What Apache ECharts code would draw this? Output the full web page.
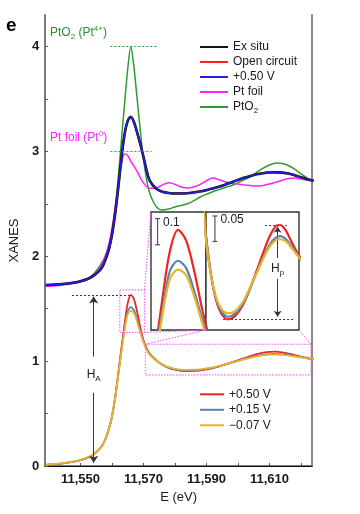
<!DOCTYPE html>
<html><head><meta charset="utf-8">
<script src="https://cdn.jsdelivr.net/npm/echarts@6/dist/echarts.min.js"></script>
<style>html,body{margin:0;padding:0;background:#fff}#c{width:360px;height:514px}</style>
</head><body><div id="c"></div><script>
// ---------- data ----------
const energy = [11539,11542,11545,11548,11550,11552,11554,11556,
  11557,11558,11559,11560,11561,11562,11563,11564,11565,11566,11567,11568,11569,11570,11571,11572,
  11574,11576,11578,11580,11582,11584,11586,11588,11590,11592,11594,11596,11598,11600,11602,11604,
  11606,11608,11610,11612,11614,11616,11618,11620,11622,11624];
// upper group (references + in situ)
const exSitu = [1.725,1.73,1.738,1.75,1.762,1.78,1.81,1.86,
  1.9,1.97,2.06,2.2,2.4,2.65,2.93,3.16,3.29,3.33,3.28,3.18,3.07,2.95,2.82,2.72,
  2.645,2.615,2.603,2.598,2.598,2.6,2.607,2.617,2.63,2.645,2.662,2.682,2.705,2.727,2.748,2.766,
  2.781,2.792,2.798,2.8,2.797,2.788,2.772,2.752,2.735,2.72];
const openCircuit = [1.725,1.73,1.738,1.75,1.762,1.78,1.81,1.86,
  1.9,1.97,2.06,2.2,2.4,2.65,2.93,3.16,3.285,3.325,3.275,3.175,3.065,2.945,2.82,2.72,
  2.645,2.615,2.604,2.6,2.6,2.602,2.609,2.619,2.632,2.647,2.664,2.684,2.707,2.729,2.75,2.768,
  2.783,2.794,2.8,2.802,2.799,2.79,2.774,2.754,2.736,2.72];
const plus050 = [1.725,1.73,1.738,1.75,1.762,1.78,1.81,1.86,
  1.9,1.97,2.06,2.2,2.4,2.65,2.93,3.16,3.29,3.33,3.28,3.18,3.07,2.95,2.82,2.72,
  2.645,2.615,2.603,2.598,2.598,2.6,2.607,2.617,2.63,2.645,2.662,2.682,2.705,2.727,2.748,2.766,
  2.781,2.792,2.798,2.8,2.797,2.788,2.772,2.752,2.735,2.72];
const ptFoil = [1.712,1.718,1.728,1.742,1.756,1.776,1.815,1.88,
  1.935,2.01,2.11,2.26,2.46,2.68,2.87,2.975,2.96,2.905,2.86,2.81,2.75,2.7,2.665,2.648,
  2.65,2.68,2.7,2.685,2.66,2.65,2.66,2.685,2.72,2.745,2.73,2.71,2.695,2.688,2.68,2.674,
  2.67,2.675,2.688,2.705,2.725,2.742,2.745,2.736,2.726,2.72];
const ptO2 = [1.72,1.725,1.733,1.745,1.757,1.778,1.825,1.9,
  1.95,2.01,2.1,2.24,2.45,2.75,3.1,3.45,3.78,4.0,3.8,3.5,3.2,2.93,2.73,2.6,
  2.475,2.44,2.45,2.47,2.485,2.5,2.53,2.565,2.59,2.615,2.635,2.655,2.675,2.7,2.73,2.76,
  2.8,2.84,2.87,2.89,2.885,2.865,2.83,2.785,2.745,2.72];
// lower group (potential series)
const lowP050 = [0.010,0.018,0.028,0.042,0.055,0.075,0.105,0.16,
  0.2,0.26,0.35,0.47,0.65,0.88,1.12,1.35,1.55,1.632,1.59,1.47,1.32,1.2,1.125,1.07,
  1.01,0.965,0.935,0.918,0.908,0.905,0.907,0.913,0.922,0.934,0.95,0.968,0.988,1.008,1.028,1.048,
  1.066,1.08,1.089,1.09,1.084,1.072,1.057,1.043,1.03,1.018];
const lowP015 = [0.010,0.018,0.028,0.042,0.055,0.075,0.105,0.16,
  0.2,0.26,0.35,0.47,0.645,0.87,1.1,1.31,1.475,1.514,1.485,1.395,1.285,1.19,1.118,1.066,
  1.008,0.966,0.938,0.922,0.913,0.91,0.912,0.917,0.925,0.936,0.951,0.968,0.986,1.003,1.02,1.036,
  1.05,1.06,1.066,1.068,1.065,1.058,1.048,1.038,1.027,1.018];
const lowM007 = [0.012,0.02,0.03,0.044,0.057,0.077,0.107,0.162,
  0.2,0.26,0.35,0.468,0.64,0.86,1.08,1.29,1.445,1.48,1.458,1.375,1.27,1.18,1.11,1.06,
  1.006,0.968,0.942,0.927,0.919,0.917,0.918,0.922,0.93,0.94,0.954,0.97,0.986,1.002,1.018,1.033,
  1.046,1.055,1.061,1.062,1.06,1.054,1.045,1.036,1.026,1.017];
// ticks
const xTickLabels = [11550, 11570, 11590, 11610];
const xTicks = [11550, 11560, 11570, 11580, 11590, 11600, 11610, 11620];
const yTickLabels = [0, 1, 2, 3, 4];
const yTicks = [0, 0.5, 1, 1.5, 2, 2.5, 3, 3.5, 4];
const insetBTicks = [0.9, 0.95, 1.0, 1.05, 1.1];
// ranges of the zoomed views (data units)
const insetAX = [11562.7, 11569.4], insetAY = [1.25, 1.70];
const insetBX = [11572, 11622], insetBY = [0.884, 1.1155];
const rect1E = [11562.5, 11570.3], rect1V = [1.273, 1.679];
const rect2E = [11570.6, 11623.2], rect2V = [0.868, 1.161];
// annotation values
const refPtO2 = 4.0, refPtFoil = 3.0;
const hA = {e: 11554.2, top: 1.615, gapTop: 1.043, gapBot: 0.697, bot: 0.03, lineFrom: 11547.3, peak: 1.632};
const hP = {e: 11610.5, top: 1.0867, gapTop: 1.0253, gapBot: 0.9841, bot: 0.9101, max: 1.09, min: 0.905};
const barA = {e: 11563.5, top: 1.675, bot: 1.575, text: '0.1'};
const barB = {e: 11576.8, top: 1.1077, bot: 1.0577, text: '0.05'};

// ---------- chart ----------
const FONT = '"Liberation Sans", Arial, Helvetica, sans-serif';
const chart = echarts.init(document.getElementById('c'));
const pairs = vals => energy.map((e, i) => [e, vals[i]]);
function line(name, vals, color, width, xi, yi, z, extra) {
  return Object.assign({
    type: 'line', name, data: pairs(vals), xAxisIndex: xi, yAxisIndex: yi,
    symbol: 'none', showSymbol: false, smooth: 0.3,
    lineStyle: {color, width}, itemStyle: {color}, z, silent: true, animation: false
  }, extra || {});
}
const C = {black: '#141414', red: '#ff2020', blue: '#1e1eff', pink: '#ff22ff', green: '#2f9a2f',
  lr: '#ee2424', lb: '#5a83b0', ly: '#e8b428'};
const dotted = {color: '#333', width: 1, type: [2, 2]};
const arrowStyle = {color: '#333', width: 1, type: 'solid'};

function scaleBar(bar, xi, yi) {
  return {
    type: 'line', data: [[bar.e, bar.top], [bar.e, bar.bot]], xAxisIndex: xi, yAxisIndex: yi,
    symbol: 'rect', symbolSize: [5, 1.2], showSymbol: true, silent: true, animation: false, z: 6,
    lineStyle: {color: '#555', width: 1.2}, itemStyle: {color: '#555'},
    label: {show: true, position: 'right', distance: 3, offset: [0, 4], fontFamily: FONT, fontSize: 12,
      color: '#222', formatter: p => p.dataIndex === 0 ? bar.text : ''}
  };
}

const hidden = {show: false};
const option = {
  animation: false,
  grid: [
    {left: 41, top: 15, width: 271, height: 451},
    {left: 151, top: 212, width: 55, height: 118, show: true, backgroundColor: '#fff', borderColor: '#333', borderWidth: 1.4, z: 5},
    {left: 206, top: 212, width: 93, height: 118, show: true, backgroundColor: '#fff', borderColor: '#333', borderWidth: 1.4, z: 5}
  ],
  xAxis: [
    {gridIndex: 0, type: 'value', min: 11538.8, max: 11623.5, position: 'bottom',
      name: 'E (eV)', nameLocation: 'middle', nameGap: 23,
      nameTextStyle: {fontFamily: FONT, fontSize: 13, color: '#1a1a1a'},
      axisLine: {lineStyle: {color: '#7a7a7a', width: 2}},
      axisTick: {inside: true, length: 3, customValues: xTicks, lineStyle: {color: '#555', width: 1}},
      axisLabel: {customValues: xTickLabels, margin: 7, fontFamily: FONT, fontSize: 13, fontWeight: 'bold', color: '#1a1a1a',
        formatter: v => String(v).replace(/\B(?=(\d{3})+(?!\d))/g, ',')},
      splitLine: hidden},
    {gridIndex: 0, type: 'value', min: 11538.8, max: 11623.5, position: 'top',
      axisLine: {lineStyle: {color: '#111', width: 1}}, axisTick: hidden, axisLabel: hidden, splitLine: hidden},
    {gridIndex: 1, type: 'value', min: insetAX[0], max: insetAX[1], axisLine: hidden, axisTick: hidden, axisLabel: hidden, splitLine: hidden},
    {gridIndex: 2, type: 'value', min: insetBX[0], max: insetBX[1], axisLine: hidden, axisTick: hidden, axisLabel: hidden, splitLine: hidden}
  ],
  yAxis: [
    {gridIndex: 0, type: 'value', min: 0, max: 4.3, position: 'left',
      name: 'XANES', nameLocation: 'middle', nameGap: 21,
      nameTextStyle: {fontFamily: FONT, fontSize: 13, color: '#1a1a1a'},
      axisLine: {lineStyle: {color: '#7a7a7a', width: 2}},
      axisTick: {inside: true, length: 3, customValues: yTicks, lineStyle: {color: '#555', width: 1}},
      axisLabel: {customValues: yTickLabels, margin: 6, fontFamily: FONT, fontSize: 13, fontWeight: 'bold', color: '#1a1a1a'},
      splitLine: hidden},
    {gridIndex: 0, type: 'value', min: 0, max: 4.3, position: 'right',
      axisLine: {lineStyle: {color: '#8a8a8a', width: 2}}, axisTick: hidden, axisLabel: hidden, splitLine: hidden},
    {gridIndex: 1, type: 'value', min: insetAY[0], max: insetAY[1], interval: 0.05, position: 'left',
      axisLine: hidden, axisTick: {inside: true, length: 3, lineStyle: {color: '#777'}}, axisLabel: hidden, splitLine: hidden},
    {gridIndex: 2, type: 'value', min: insetBY[0], max: insetBY[1], position: 'right',
      axisLine: hidden, axisTick: {inside: true, length: 3, customValues: insetBTicks, lineStyle: {color: '#777'}},
      axisLabel: {show: false, customValues: insetBTicks}, splitLine: hidden}
  ],
  legend: [
    {data: ['Ex situ', 'Open circuit', '+0.50 V', 'Pt foil', 'PtO2'], orient: 'vertical', left: 195, top: 34.5,
      icon: 'rect', itemWidth: 28, itemHeight: 2, itemGap: 0, selectedMode: false,
      formatter: n => n === 'PtO2' ? '{a|PtO}{s|2}' : '{a|' + n + '}',
      textStyle: {fontFamily: FONT, fontSize: 12, color: '#1a1a1a', lineHeight: 15,
        rich: {a: {fontFamily: FONT, fontSize: 12, color: '#1a1a1a', lineHeight: 15},
               s: {fontFamily: FONT, fontSize: 8, color: '#1a1a1a', lineHeight: 8, verticalAlign: 'bottom'}}}},
    {data: ['+0.50 V ', '+0.15 V', '\u22120.07 V'], orient: 'vertical', left: 195, top: 381.8,
      icon: 'rect', itemWidth: 24, itemHeight: 2, itemGap: 0.5, selectedMode: false,
      textStyle: {fontFamily: FONT, fontSize: 12, color: '#1a1a1a', lineHeight: 15}}
  ],
  series: [
    line('PtO2', ptO2, C.green, 1.5, 0, 0, 2, {markLine: {silent: true, animation: false, symbol: ['none', 'none'],
      label: {show: false}, lineStyle: {color: C.green, width: 1, type: [2, 2]},
      data: [[{coord: [11559.5, refPtO2]}, {coord: [11574.5, refPtO2]}]]}}),
    line('Pt foil', ptFoil, C.pink, 1.5, 0, 0, 2, {markLine: {silent: true, animation: false, symbol: ['none', 'none'],
      label: {show: false}, lineStyle: {color: C.pink, width: 1, type: [2, 2]},
      data: [[{coord: [11559.5, refPtFoil]}, {coord: [11572.6, refPtFoil]}]]}}),
    line('Open circuit', openCircuit, C.red, 2, 0, 0, 3),
    line('Ex situ', exSitu, C.black, 2.6, 0, 0, 3),
    line('+0.50 V', plus050, C.blue, 1.4, 0, 0, 3),
    line('+0.50 V ', lowP050, C.lr, 1.8, 0, 0, 3, {markLine: {silent: true, animation: false, symbol: ['none', 'arrow'], symbolSize: 7,
      label: {show: false}, lineStyle: arrowStyle,
      data: [[{coord: [hA.e, hA.gapTop]}, {coord: [hA.e, hA.top]}], [{coord: [hA.e, hA.gapBot]}, {coord: [hA.e, hA.bot]}]]}}),
    line('+0.15 V', lowP015, C.lb, 1.8, 0, 0, 3, {markLine: {silent: true, animation: false, symbol: ['none', 'none'],
      label: {show: false}, lineStyle: dotted,
      data: [[{coord: [hA.lineFrom, hA.peak]}, {coord: [11566, hA.peak]}]]}}),
    line('\u22120.07 V', lowM007, C.ly, 1.8, 0, 0, 3),
    // inset A (peak)
    line('+0.50 V ', lowP050, C.lr, 2.2, 2, 2, 7),
    line('+0.15 V', lowP015, C.lb, 2.2, 2, 2, 7),
    line('\u22120.07 V', lowM007, C.ly, 2.2, 2, 2, 7),
    scaleBar(barA, 2, 2),
    // inset B (post-edge)
    line('+0.50 V ', lowP050, C.lr, 2.2, 3, 3, 7, {markLine: {silent: true, animation: false, symbol: ['none', 'arrow'], symbolSize: 6,
      label: {show: false}, lineStyle: arrowStyle,
      data: [[{coord: [hP.e, hP.gapTop]}, {coord: [hP.e, hP.top]}], [{coord: [hP.e, hP.gapBot]}, {coord: [hP.e, hP.bot]}]]}}),
    line('+0.15 V', lowP015, C.lb, 2.2, 3, 3, 7, {markLine: {silent: true, animation: false, symbol: ['none', 'none'],
      label: {show: false}, lineStyle: dotted,
      data: [[{coord: [11603.8, hP.max]}, {coord: [11615.5, hP.max]}], [{coord: [11581.2, hP.min]}, {coord: [11618.8, hP.min]}]]}}),
    line('\u22120.07 V', lowM007, C.ly, 2.2, 3, 3, 7),
    scaleBar(barB, 3, 3)
  ]
};
chart.setOption(option);

// ---------- zoom boxes, connectors and text annotations ----------
const px = (xi, yi, p) => chart.convertToPixel({xAxisIndex: xi, yAxisIndex: yi}, p);
const r1TL = px(0, 0, [rect1E[0], rect1V[1]]), r1BR = px(0, 0, [rect1E[1], rect1V[0]]);
const r2TL = px(0, 0, [rect2E[0], rect2V[1]]), r2BR = px(0, 0, [rect2E[1], rect2V[0]]);
const aTL = px(2, 2, [insetAX[0], insetAY[1]]), aBR = px(2, 2, [insetAX[1], insetAY[0]]);
const bBR = px(3, 3, [insetBX[1], insetBY[0]]);
const hAtext = px(0, 0, [hA.e, (hA.gapTop + hA.gapBot) / 2]);
const hPtext = px(3, 3, [hP.e, (hP.gapTop + hP.gapBot) / 2]);
const mag = {stroke: '#ff44ff', lineWidth: 1, lineDash: [1.5, 1.5], fill: null};
const rich = {
  a: {fontFamily: FONT, fontSize: 12, lineHeight: 16},
  b: {fontFamily: FONT, fontSize: 8, lineHeight: 8, verticalAlign: 'bottom'},
  c: {fontFamily: FONT, fontSize: 8, lineHeight: 8, verticalAlign: 'top'}
};
function txt(x, y, text, fill, align) {
  return {type: 'text', x, y, z: 20, silent: true,
    style: {text, fill, align: align || 'left', verticalAlign: 'middle', rich, font: '12px ' + FONT}};
}
chart.setOption({graphic: [
  {type: 'rect', z: 10, silent: true, shape: {x: r1TL[0], y: r1TL[1], width: r1BR[0] - r1TL[0], height: r1BR[1] - r1TL[1]}, style: mag},
  {type: 'rect', z: 10, silent: true, shape: {x: r2TL[0], y: r2TL[1], width: r2BR[0] - r2TL[0], height: r2BR[1] - r2TL[1]}, style: mag},
  {type: 'polyline', z: 10, silent: true, shape: {points: [[r1BR[0], r1TL[1]], aTL]}, style: mag},
  {type: 'polyline', z: 10, silent: true, shape: {points: [r1BR, aBR]}, style: mag},
  {type: 'polyline', z: 10, silent: true, shape: {points: [r2TL, aBR]}, style: mag},
  {type: 'polyline', z: 10, silent: true, shape: {points: [[r2BR[0], r2TL[1]], bBR]}, style: mag},
  {type: 'text', x: 6, y: 26, z: 20, silent: true, style: {text: 'e', font: 'bold 19px ' + FONT, fill: '#000', verticalAlign: 'middle'}},
  txt(50, 33, '{a|PtO}{b|2}{a| (Pt}{c|4+}{a|)}', '#2f8f2f'),
  txt(50, 138, '{a|Pt foil (Pt}{c|0}{a|)}', '#ff22ff'),
  txt(hAtext[0], hAtext[1], '{a|H}{b|A}', '#222', 'center'),
  txt(hPtext[0], hPtext[1], '{a|H}{b|p}', '#222', 'center')
]});
</script></body></html>
